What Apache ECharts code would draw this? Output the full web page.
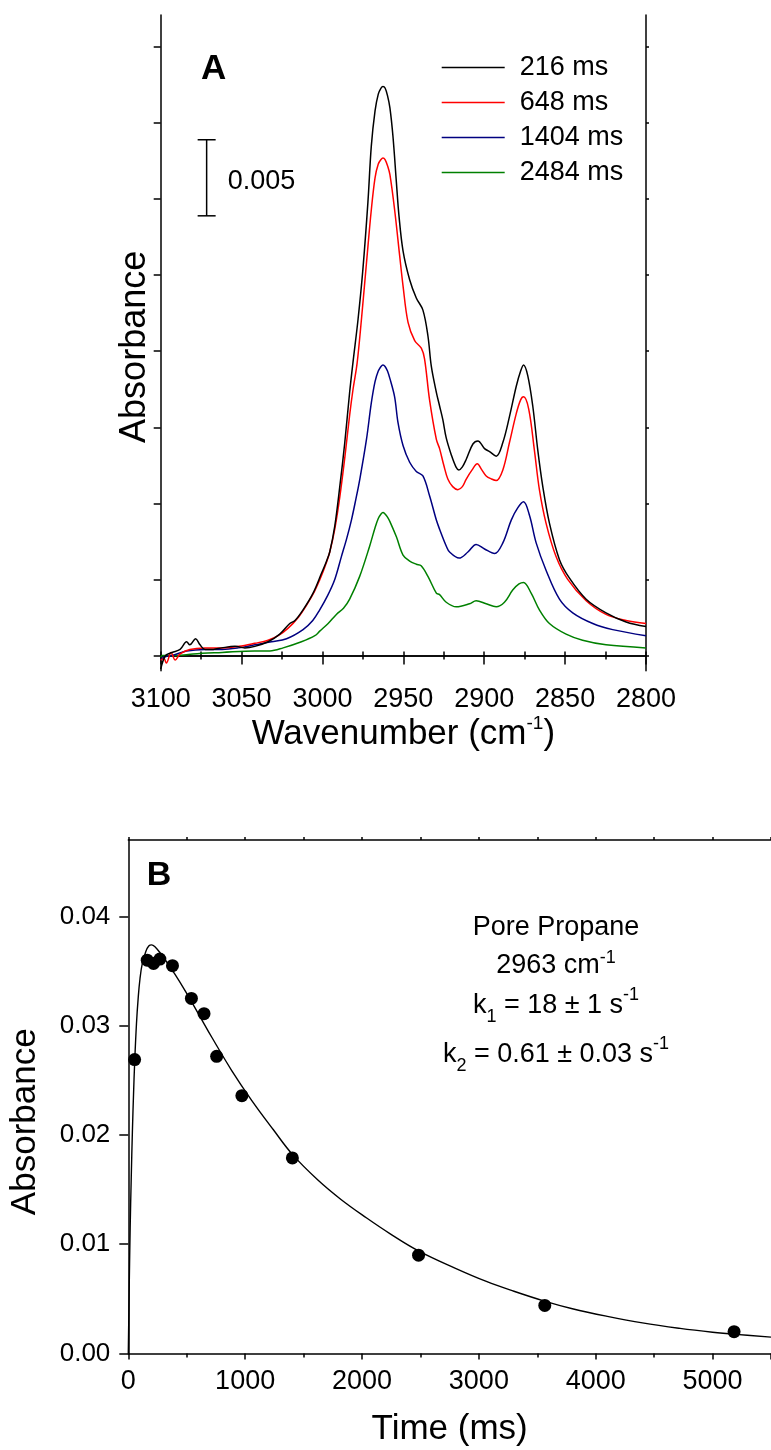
<!DOCTYPE html>
<html>
<head>
<meta charset="utf-8">
<script src="https://cdn.jsdelivr.net/npm/echarts@6/dist/echarts.min.js"></script>
<style>
html,body{margin:0;padding:0;background:#fff;}
#chart{width:771px;height:1450px;}
</style>
</head>
<body>
<div id="chart"></div>
<script>
// ---------- Panel A: IR spectra [wavenumber cm-1, absorbance] ----------
const spec216 = [[3100,-0.0009],[3097,0.0000],[3093,0.0002],[3088,0.0004],[3084,0.0009],[3082,0.0007],[3078.4,0.0011],[3075.7,0.0007],[3072.6,0.0004],[3067.5,0.0004],[3062.3,0.0005],[3054,0.0006],[3048,0.0005],[3041.8,0.0006],[3033.6,0.0009],[3026.4,0.0014],[3020.2,0.0021],[3017,0.0023],[3012,0.0030],[3005.8,0.0041],[3000.6,0.0054],[2997.5,0.0062],[2995.5,0.0068],[2992.4,0.0085],[2989.3,0.0111],[2986.2,0.0140],[2983.2,0.0173],[2981.1,0.0193],[2978,0.0221],[2975,0.0254],[2971.9,0.0298],[2969.8,0.0335],[2967.5,0.0358],[2965.5,0.0369],[2963.8,0.0373],[2962.6,0.0374],[2961.3,0.0373],[2959.8,0.0368],[2958.3,0.0360],[2956.4,0.0341],[2954.3,0.0311],[2952.7,0.0289],[2950.2,0.0266],[2946.1,0.0247],[2942,0.0235],[2937.9,0.0227],[2934.8,0.0210],[2932.7,0.0190],[2929.6,0.0173],[2927.6,0.0164],[2925.6,0.0155],[2923.5,0.0143],[2920.4,0.0132],[2917.5,0.0124],[2915.7,0.0122],[2913.5,0.0124],[2911.1,0.0129],[2907,0.0139],[2903.9,0.0141],[2899.8,0.0136],[2896.7,0.0134],[2892.6,0.0131],[2888.5,0.0140],[2884.4,0.0157],[2880.2,0.0177],[2877.5,0.0187],[2875.7,0.0191],[2873.1,0.0184],[2870,0.0164],[2866.9,0.0135],[2863.8,0.0111],[2859.7,0.0087],[2853.5,0.0063],[2847.4,0.0051],[2837,0.0037],[2824.7,0.0028],[2812.3,0.0022],[2800,0.0019]];
const spec648 = [[3100,-0.0003],[3098,-0.0002],[3096.5,-0.0005],[3093.6,0.0002],[3091,-0.0003],[3088,0.0001],[3082,0.0004],[3072.6,0.0005],[3062,0.0005],[3051.6,0.0006],[3041.8,0.0008],[3033.6,0.0010],[3027.4,0.0013],[3021.2,0.0018],[3015,0.0025],[3009.9,0.0033],[3005,0.0042],[3001.6,0.0050],[2998.6,0.0058],[2995.5,0.0068],[2992.4,0.0083],[2989.3,0.0104],[2986.2,0.0130],[2983.2,0.0158],[2981.1,0.0175],[2978.6,0.0192],[2975.9,0.0221],[2972.8,0.0258],[2969.8,0.0293],[2967.5,0.0314],[2965.5,0.0323],[2963.8,0.0326],[2962.6,0.0327],[2961.3,0.0326],[2959.8,0.0322],[2958.3,0.0316],[2955.4,0.0293],[2952.3,0.0263],[2950.2,0.0243],[2947.1,0.0219],[2943,0.0207],[2938.9,0.0202],[2936.9,0.0195],[2933.8,0.0168],[2929.6,0.0142],[2927.6,0.0136],[2925,0.0125],[2922.5,0.0116],[2919.5,0.0111],[2916.3,0.0109],[2913.5,0.0111],[2911.1,0.0116],[2907.5,0.0122],[2904.3,0.0126],[2901.5,0.0122],[2898.8,0.0118],[2895.5,0.0116],[2892.6,0.0115],[2888.5,0.0122],[2884.4,0.0140],[2880.2,0.0159],[2877.5,0.0168],[2875.7,0.0170],[2872.5,0.0162],[2869,0.0135],[2865.9,0.0109],[2861.8,0.0087],[2855.6,0.0065],[2848.4,0.0050],[2837,0.0036],[2824.7,0.0027],[2812.3,0.0023],[2800,0.0021]];
const spec1404 = [[3100,-0.0003],[3098,-0.0001],[3093,0.0000],[3084,0.0003],[3072.6,0.0004],[3062,0.0004],[3052,0.0005],[3041.8,0.0007],[3031.5,0.0009],[3022.2,0.0011],[3012,0.0017],[3006,0.0023],[3001.7,0.0030],[2997,0.0039],[2992.4,0.0050],[2988.3,0.0065],[2985,0.0077],[2982.1,0.0089],[2979.5,0.0102],[2976.9,0.0116],[2972.8,0.0142],[2969.8,0.0166],[2967.5,0.0180],[2965.5,0.0187],[2963.8,0.0190],[2962.6,0.0191],[2961.3,0.0190],[2959.8,0.0187],[2958.3,0.0182],[2955.4,0.0170],[2953.3,0.0153],[2950.2,0.0138],[2946.1,0.0127],[2942,0.0121],[2937.9,0.0118],[2933.8,0.0105],[2929.6,0.0089],[2927.6,0.0083],[2923.5,0.0072],[2921.4,0.0068],[2915.5,0.0064],[2910.1,0.0068],[2905,0.0073],[2899.8,0.0070],[2893.6,0.0067],[2888.5,0.0074],[2883.3,0.0089],[2879.3,0.0097],[2875.7,0.0101],[2872,0.0092],[2867.9,0.0074],[2861.8,0.0056],[2853.5,0.0037],[2845.3,0.0028],[2832.9,0.0021],[2820.6,0.0017],[2800,0.0013]];
const spec2484 = [[3100,-0.0001],[3099,0.0000],[3090,0.0000],[3080,0.0001],[3062,0.0002],[3042,0.0003],[3032.5,0.0003],[3024.3,0.0005],[3013,0.0009],[3004.7,0.0013],[3001.7,0.0016],[2996.5,0.0021],[2991.4,0.0027],[2987,0.0031],[2983.2,0.0037],[2977,0.0052],[2970.8,0.0072],[2967.5,0.0084],[2965.5,0.0090],[2963.8,0.0093],[2962.6,0.0094],[2961.3,0.0093],[2959.8,0.0091],[2958.3,0.0088],[2954.3,0.0078],[2950.2,0.0066],[2946.1,0.0062],[2942,0.0060],[2939,0.0059],[2934.8,0.0052],[2929.6,0.0041],[2927.6,0.0040],[2923.5,0.0035],[2917.3,0.0032],[2909.1,0.0034],[2905,0.0036],[2898.8,0.0034],[2892.6,0.0032],[2887.5,0.0035],[2882.4,0.0043],[2878.5,0.0047],[2875.7,0.0048],[2871,0.0041],[2865.9,0.0030],[2859.7,0.0021],[2849.4,0.0014],[2839.2,0.0010],[2824.7,0.0007],[2800,0.0005]];
const specNames = ['216 ms', '648 ms', '1404 ms', '2484 ms'];
const specColors = ['#000000', '#ff0000', '#000080', '#008000'];
const specTicksA = [0, 0.005, 0.01, 0.015, 0.02, 0.025, 0.03, 0.035, 0.04];
// scale bar: [wavenumber, bottom absorbance, top absorbance]
const scaleBar = [3071.6, 0.0289, 0.0339];
const scaleBarLabel = '0.005';

// ---------- Panel B: kinetics ----------
const pointTime = [54, 162, 216, 270, 378, 540, 648, 756, 972, 1404, 2484, 3564, 5184];
const pointAbs = [0.0269, 0.0360, 0.0357, 0.0361, 0.0355, 0.0325, 0.0311, 0.0272, 0.0236, 0.0179, 0.0090, 0.0044, 0.0020];
const fitCurve = [[0,0],[8,0.0062],[16,0.0115],[25,0.0160],[35,0.0203],[45,0.0238],[54,0.0265],[70,0.0302],[85,0.0326],[100,0.0343],[120,0.0357],[150,0.0368],[175,0.0373],[200,0.0374],[230,0.0372],[270,0.0367],[324,0.0359],[400,0.0347],[492,0.0331],[605,0.0310],[717,0.0289],[885,0.0259],[1054,0.0232],[1240,0.0205],[1406,0.0182],[1620,0.0159],[1820,0.0141],[2040,0.0124],[2235,0.0110],[2483,0.0094],[2800,0.0078],[3064,0.0066],[3300,0.0057],[3561,0.0048],[3800,0.0041],[4100,0.0034],[4400,0.0028],[4722,0.0023],[5000,0.00195],[5200,0.00175],[5500,0.0015]];
const kinTicksA = [0, 0.01, 0.02, 0.03, 0.04];

const FONT = 'Liberation Sans, Arial, sans-serif';
const chart = echarts.init(document.getElementById('chart'), null, {renderer: 'canvas'});

const axisLineStyle = {show: true, lineStyle: {color: '#000', width: 1.5}};
const plain = v => String(v);
const specSeries = [spec216, spec648, spec1404, spec2484].map((d, i) => ({
  name: specNames[i], type: 'line', xAxisIndex: 0, yAxisIndex: 0,
  data: d, symbol: 'none', showSymbol: false, smooth: 0.35,
  lineStyle: {color: specColors[i], width: 1.5}, itemStyle: {color: specColors[i]},
  z: 10 - i
}));

const option = {
  animation: false,
  backgroundColor: '#fff',
  textStyle: {fontFamily: FONT, color: '#000'},
  grid: [
    {left: 160.7, top: 15, width: 485.3, height: 655.7},
    {left: 128.3, top: 840, width: 652.3, height: 513.5}
  ],
  legend: {
    data: specNames.map((n, i) => ({name: n, icon: 'rect', itemStyle: {color: specColors[i]}})),
    orient: 'vertical', left: 441.7, top: 54, padding: 0,
    itemWidth: 63, itemHeight: 1.6, itemGap: 8, selectedMode: false,
    textStyle: {fontSize: 27, lineHeight: 26, color: '#000', fontFamily: FONT, padding: [0, 0, 0, 10]}
  },
  xAxis: [
    {gridIndex: 0, type: 'value', position: 'bottom', min: 2800, max: 3100, inverse: true, interval: 50,
     axisLine: axisLineStyle, splitLine: {show: false},
     axisTick: {show: true, length: 9, lineStyle: {color: '#000', width: 1.5}},
     minorTick: {show: true, splitNumber: 2, length: 4, lineStyle: {color: '#000', width: 1.5}},
     axisLabel: {fontSize: 27, margin: 15, color: '#000', fontFamily: FONT, formatter: plain},
     name: 'Wavenumber (cm{sup|-1})', nameLocation: 'middle', nameGap: 44,
     nameTextStyle: {fontSize: 35, lineHeight: 40, color: '#000', fontFamily: FONT,
       rich: {sup: {fontSize: 19, lineHeight: 20, verticalAlign: 'top', fontFamily: FONT, color: '#000'}}}},
    {gridIndex: 0, type: 'value', position: 'top', min: 2800, max: 3100, inverse: true, interval: 25,
     axisLine: axisLineStyle, splitLine: {show: false},
     axisTick: {show: true, length: 4, lineStyle: {color: '#000', width: 1.5}},
     axisLabel: {show: false}},
    {gridIndex: 1, type: 'value', position: 'bottom', min: 0, max: 5500, interval: 1000,
     axisLine: axisLineStyle, splitLine: {show: false},
     axisTick: {show: true, length: 6, lineStyle: {color: '#000', width: 1.5}},
     minorTick: {show: true, splitNumber: 2, length: 4, lineStyle: {color: '#000', width: 1.5}},
     axisLabel: {fontSize: 27, margin: 15, color: '#000', fontFamily: FONT, showMaxLabel: false, formatter: plain},
     name: 'Time (ms)', nameLocation: 'middle', nameGap: 59,
     nameTextStyle: {fontSize: 35, lineHeight: 34, color: '#000', fontFamily: FONT}},
    {gridIndex: 1, type: 'value', position: 'top', min: 0, max: 5500, interval: 500,
     axisLine: axisLineStyle, splitLine: {show: false},
     axisTick: {show: true, length: 3, lineStyle: {color: '#000', width: 1.5}},
     axisLabel: {show: false}}
  ],
  yAxis: [
    {gridIndex: 0, type: 'value', position: 'left', min: -0.001, max: 0.0421,
     axisLine: axisLineStyle, splitLine: {show: false},
     axisTick: {show: true, length: 7, customValues: specTicksA, lineStyle: {color: '#000', width: 1.5}},
     axisLabel: {show: false},
     name: 'Absorbance', nameLocation: 'middle', nameGap: 8,
     nameTextStyle: {fontSize: 36, color: '#000', fontFamily: FONT, padding: [0, 8, 0, 0]}},
    {gridIndex: 0, type: 'value', position: 'right', min: -0.001, max: 0.0421,
     axisLine: axisLineStyle, splitLine: {show: false},
     axisTick: {show: true, length: 3, customValues: specTicksA, lineStyle: {color: '#000', width: 1.5}},
     axisLabel: {show: false}},
    {gridIndex: 1, type: 'value', position: 'left', min: 0, max: 0.047,
     axisLine: axisLineStyle, splitLine: {show: false},
     axisTick: {show: true, length: 9, customValues: kinTicksA, lineStyle: {color: '#000', width: 1.5}},
     axisLabel: {fontSize: 26, margin: 18, color: '#000', fontFamily: FONT, customValues: kinTicksA,
       formatter: v => v.toFixed(2)},
     name: 'Absorbance', nameLocation: 'middle', nameGap: 85,
     nameTextStyle: {fontSize: 35, color: '#000', fontFamily: FONT, padding: [0, 50, 0, 0]}}
  ],
  graphic: [
    {type: 'text', left: 201, top: 52, style: {text: 'A', fontSize: 35, fontWeight: 'bold', fontFamily: FONT, fill: '#000', verticalAlign: 'middle'}},
    {type: 'text', x: 146.7, y: 875.5, style: {text: 'B', fontSize: 34, fontWeight: 'bold', fontFamily: FONT, fill: '#000', verticalAlign: 'middle', align: 'left'}},
    {type: 'text', x: 556, y: 927.4, style: {text: 'Pore Propane', fontSize: 27, fontFamily: FONT, fill: '#000', align: 'center', verticalAlign: 'middle'}},
    {type: 'text', x: 556, y: 965.7, style: {text: '2963 cm{sup|-1}', fontSize: 27, lineHeight: 34, fontFamily: FONT, fill: '#000', align: 'center', verticalAlign: 'middle',
      rich: {sup: {fontSize: 18, lineHeight: 22, verticalAlign: 'top', fontFamily: FONT, fill: '#000'}}}},
    {type: 'text', x: 556, y: 1005.7, style: {text: 'k{sub|1} = 18 ± 1 s{sup|-1}', fontSize: 27, lineHeight: 40, fontFamily: FONT, fill: '#000', align: 'center', verticalAlign: 'middle',
      rich: {sup: {fontSize: 18, lineHeight: 28, verticalAlign: 'top', fontFamily: FONT, fill: '#000'},
             sub: {fontSize: 18, lineHeight: 12, verticalAlign: 'bottom', fontFamily: FONT, fill: '#000'}}}},
    {type: 'text', x: 556, y: 1055, style: {text: 'k{sub|2} = 0.61 ± 0.03 s{sup|-1}', fontSize: 27, lineHeight: 40, fontFamily: FONT, fill: '#000', align: 'center', verticalAlign: 'middle',
      rich: {sup: {fontSize: 18, lineHeight: 28, verticalAlign: 'top', fontFamily: FONT, fill: '#000'},
             sub: {fontSize: 18, lineHeight: 14, verticalAlign: 'bottom', fontFamily: FONT, fill: '#000'}}}}
  ],
  series: specSeries.concat([
    {type: 'custom', xAxisIndex: 0, yAxisIndex: 0, data: [scaleBar], z: 20,
     encode: {x: 0, y: [1, 2]},
     renderItem: function (params, api) {
       const x = api.value(0), a = api.value(1), b = api.value(2);
       const p0 = api.coord([x, a]), p1 = api.coord([x, b]);
       const w = 9, st = {stroke: '#000', lineWidth: 1.5};
       return {type: 'group', children: [
         {type: 'line', shape: {x1: p0[0], y1: p0[1], x2: p1[0], y2: p1[1]}, style: st},
         {type: 'line', shape: {x1: p0[0] - w, y1: p0[1], x2: p0[0] + w, y2: p0[1]}, style: st},
         {type: 'line', shape: {x1: p1[0] - w, y1: p1[1], x2: p1[0] + w, y2: p1[1]}, style: st},
         {type: 'text', x: p0[0] + 21, y: (p0[1] + p1[1]) / 2 + 4,
          style: {text: scaleBarLabel, fontSize: 27, fontFamily: FONT, fill: '#000', align: 'left', verticalAlign: 'middle'}}
       ]};
     }},
    {type: 'line', name: 'fit', xAxisIndex: 2, yAxisIndex: 2, data: fitCurve, symbol: 'none', smooth: 0.4,
     lineStyle: {color: '#000', width: 1.4}, z: 5},
    {type: 'scatter', name: 'data', xAxisIndex: 2, yAxisIndex: 2,
     data: pointTime.map((t, i) => [t, pointAbs[i]]), symbol: 'circle', symbolSize: 13,
     itemStyle: {color: '#000', opacity: 1}, z: 6}
  ])
};
chart.setOption(option);
</script>
</body>
</html>
